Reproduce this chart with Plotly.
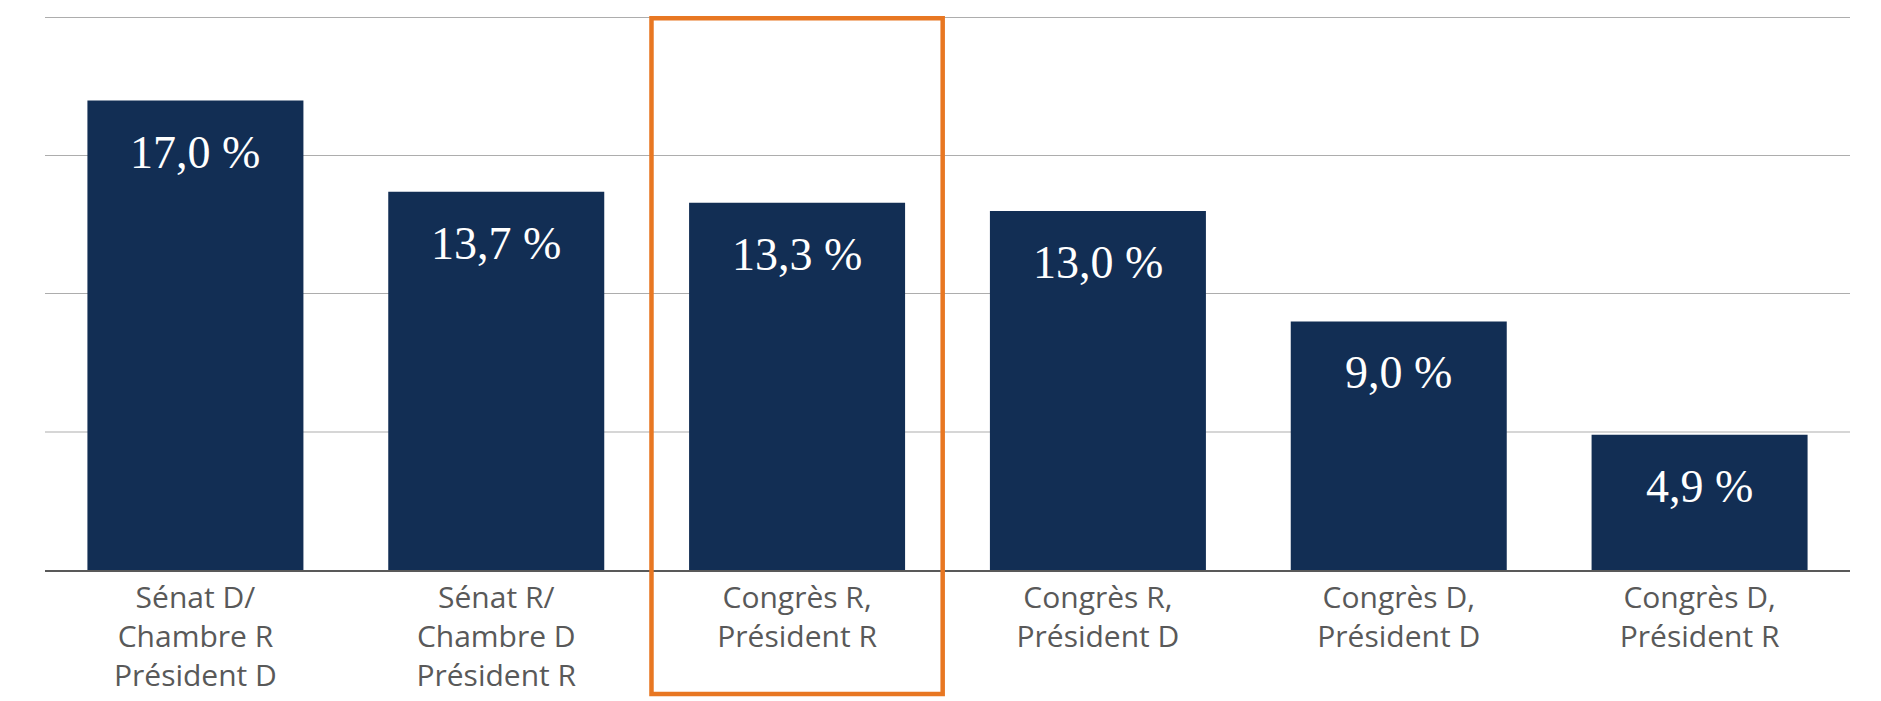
import plotly.graph_objects as go

# categories and values
categories = [
    "Sénat D/<br>Chambre R<br>Président D",
    "Sénat R/<br>Chambre D<br>Président R",
    "Congrès R,<br>Président R",
    "Congrès R,<br>Président D",
    "Congrès D,<br>Président D",
    "Congrès D,<br>Président R",
]
values = [17.0, 13.7, 13.3, 13.0, 9.0, 4.9]
grid_vals = [5, 10, 15, 20]
highlight = 2  # index of the framed category

NAVY = "#122E54"
ORANGE = "#E87722"

fig = go.Figure()
fig.add_trace(go.Bar(
    x=categories,
    y=values,
    marker=dict(color=NAVY, line=dict(width=0)),
    hoverinfo="skip",
    showlegend=False,
))

# value labels inside the top of each bar
for cat, v in zip(categories, values):
    fig.add_annotation(
        x=cat, y=v,
        text=f"{v:.1f}".replace(".", ",") + "\u00a0%",
        showarrow=False,
        yanchor="top",
        yshift=-24,
        font=dict(family="Liberation Serif", size=46, color="white"),
    )

# the lowest gridline is lighter than the others (drawn as a shape, under the bars)
fig.add_shape(
    type="line", xref="paper", yref="y",
    x0=0, x1=1, y0=grid_vals[0], y1=grid_vals[0],
    line=dict(color="#d6d6d6", width=2),
    layer="below",
)

# orange frame around the highlighted category
n = len(categories)
half = 0.484
fig.add_shape(
    type="rect",
    xref="paper", yref="paper",
    x0=(highlight + 0.5 - half) / n, x1=(highlight + 0.5 + half) / n,
    y0=-0.2234, y1=0.994,
    line=dict(color=ORANGE, width=4.5),
    fillcolor="rgba(0,0,0,0)",
    layer="above",
)

# page body keeps its default 8px margin, so the figure is 8px smaller
fig.update_layout(
    width=1873, height=693,
    margin=dict(l=37, r=31, t=7, b=131),
    paper_bgcolor="white",
    plot_bgcolor="white",
    bargap=0.282,
    font=dict(family="Open Sans", size=30, color="#595959"),
    xaxis=dict(
        showline=True, linecolor="#595959", linewidth=2,
        ticks="", showgrid=False,
        tickfont=dict(family="Open Sans", size=30, color="#595959"),
    ),
    yaxis=dict(
        range=[0, 20.1],
        tickvals=grid_vals[1:],
        showticklabels=False,
        gridcolor="#adadad", gridwidth=1,
        zeroline=False,
    ),
)

fig.write_html("out.html")
